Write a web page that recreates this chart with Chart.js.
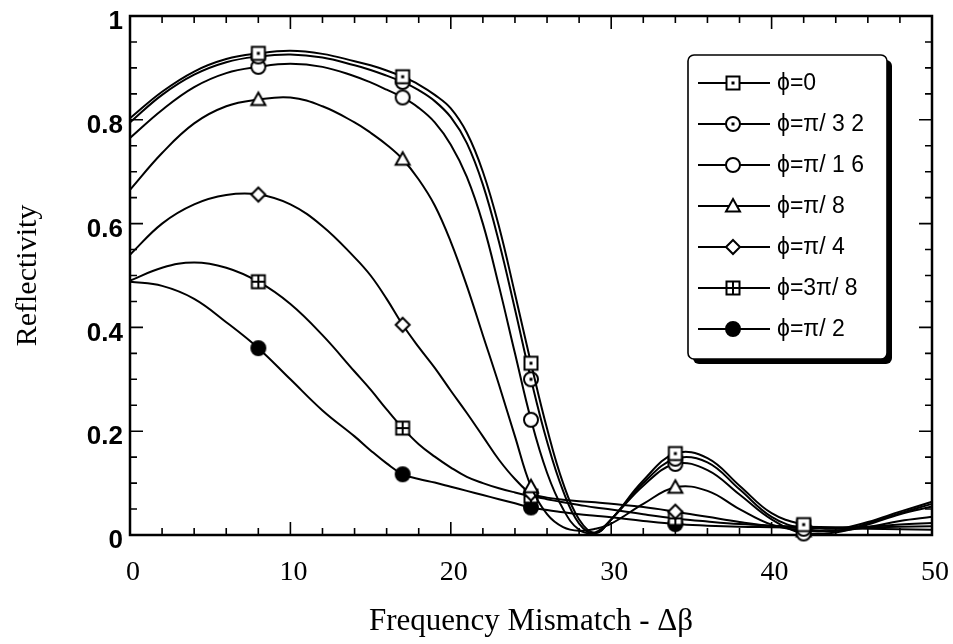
<!DOCTYPE html>
<html>
<head>
<meta charset="utf-8">
<script src="https://cdn.jsdelivr.net/npm/chart.js@4.4.0/dist/chart.umd.min.js"></script>
<style>
  html, body { margin: 0; padding: 0; background: #fff; }
  #wrap { width: 953px; height: 644px; }
</style>
</head>
<body>
<div id="wrap"><canvas id="reflect-chart" width="953" height="644"></canvas></div>
<script>
// frequency mismatch samples (Δβ), denser where the curves fall steeply
const mismatch = [0, 2, 4, 6, 8, 10, 12, 14, 15, 16, 17, 18, 19, 20, 21, 22, 23, 24, 25, 26, 27, 28, 29, 30, 32, 34, 36, 38, 40, 42, 44, 46, 48, 50];
// mismatch values that carry a symbol
const markedAt = [8, 17, 25, 34, 42];

const phiLabels = ['ϕ=0', 'ϕ=π/ 3 2', 'ϕ=π/ 1 6', 'ϕ=π/ 8', 'ϕ=π/ 4', 'ϕ=3π/ 8', 'ϕ=π/ 2'];

// reflectivity for each phase
const rPhi0  = [0.803, 0.854, 0.893, 0.917, 0.928, 0.933, 0.927, 0.913, 0.905, 0.895, 0.883, 0.868, 0.848, 0.822, 0.775, 0.70, 0.595, 0.465, 0.331, 0.205, 0.10, 0.03, 0.004, 0.03, 0.105, 0.157, 0.148, 0.095, 0.042, 0.02, 0.012, 0.025, 0.045, 0.064];
const rPhi32 = [0.795, 0.848, 0.887, 0.911, 0.922, 0.926, 0.92, 0.905, 0.896, 0.885, 0.873, 0.857, 0.836, 0.805, 0.755, 0.675, 0.565, 0.435, 0.30, 0.18, 0.085, 0.022, 0.003, 0.03, 0.10, 0.147, 0.14, 0.088, 0.035, 0.012, 0.008, 0.022, 0.042, 0.06];
const rPhi16 = [0.765, 0.819, 0.863, 0.89, 0.902, 0.908, 0.902, 0.884, 0.872, 0.858, 0.843, 0.823, 0.795, 0.752, 0.69, 0.60, 0.48, 0.35, 0.222, 0.12, 0.05, 0.01, 0.005, 0.03, 0.095, 0.137, 0.125, 0.078, 0.03, 0.003, 0.005, 0.02, 0.04, 0.055];
const rPhi8  = [0.665, 0.736, 0.793, 0.826, 0.839, 0.843, 0.826, 0.795, 0.775, 0.752, 0.724, 0.685, 0.635, 0.565, 0.48, 0.385, 0.29, 0.19, 0.093, 0.04, 0.015, 0.008, 0.012, 0.022, 0.06, 0.092, 0.085, 0.05, 0.02, 0.008, 0.008, 0.015, 0.027, 0.035];
const rPhi4  = [0.54, 0.60, 0.637, 0.655, 0.656, 0.637, 0.595, 0.535, 0.50, 0.455, 0.405, 0.362, 0.322, 0.278, 0.235, 0.19, 0.145, 0.108, 0.08, 0.072, 0.068, 0.065, 0.063, 0.06, 0.054, 0.045, 0.035, 0.025, 0.017, 0.013, 0.013, 0.016, 0.02, 0.023];
const r3Phi8 = [0.49, 0.515, 0.525, 0.515, 0.488, 0.445, 0.385, 0.315, 0.28, 0.242, 0.206, 0.175, 0.151, 0.13, 0.112, 0.10, 0.09, 0.082, 0.075, 0.069, 0.063, 0.058, 0.053, 0.049, 0.04, 0.032, 0.026, 0.021, 0.018, 0.016, 0.015, 0.015, 0.016, 0.017];
const rPhi2  = [0.488, 0.48, 0.455, 0.41, 0.36, 0.30, 0.24, 0.19, 0.163, 0.138, 0.117, 0.108, 0.101, 0.093, 0.085, 0.077, 0.069, 0.061, 0.053, 0.048, 0.044, 0.04, 0.037, 0.034, 0.027, 0.021, 0.018, 0.016, 0.015, 0.014, 0.013, 0.012, 0.011, 0.01];

const xTicks = [0, 10, 20, 30, 40, 50];
const yTicks = [0, 0.2, 0.4, 0.6, 0.8, 1];

// little canvases used as point symbols
const makeMarker = (kind) => {
    const c = document.createElement('canvas');
    c.width = 20;
    c.height = 20;
    const g = c.getContext('2d');
    const m = 10;
    g.lineWidth = 2;
    g.strokeStyle = '#000';
    g.fillStyle = '#fff';
    const dot = () => {
        g.fillStyle = '#000';
        g.fillRect(m - 1.5, m - 1.5, 3, 3);
    };
    if (kind === 'squareDot' || kind === 'squarePlus') {
        g.fillRect(m - 6.5, m - 6.5, 13, 13);
        g.strokeRect(m - 6.5, m - 6.5, 13, 13);
        if (kind === 'squareDot') dot();
        else {
            g.beginPath();
            g.moveTo(m, m - 6.5); g.lineTo(m, m + 6.5);
            g.moveTo(m - 6.5, m); g.lineTo(m + 6.5, m);
            g.stroke();
        }
    } else if (kind === 'circleDot' || kind === 'circle' || kind === 'disc') {
        g.beginPath();
        g.arc(m, m, 7, 0, Math.PI * 2);
        if (kind === 'disc') g.fillStyle = '#000';
        g.fill();
        g.stroke();
        if (kind === 'circleDot') dot();
    } else if (kind === 'triangle') {
        g.beginPath();
        g.moveTo(m, m - 7);
        g.lineTo(m + 7, m + 5.5);
        g.lineTo(m - 7, m + 5.5);
        g.closePath();
        g.fill();
        g.stroke();
    } else if (kind === 'diamond') {
        g.beginPath();
        g.moveTo(m, m - 7);
        g.lineTo(m + 7, m);
        g.lineTo(m, m + 7);
        g.lineTo(m - 7, m);
        g.closePath();
        g.fill();
        g.stroke();
    }
    return c;
};

const seriesValues = [rPhi0, rPhi32, rPhi16, rPhi8, rPhi4, r3Phi8, rPhi2];
const seriesMarkers = ['squareDot', 'circleDot', 'circle', 'triangle', 'diamond', 'squarePlus', 'disc'].map(makeMarker);

const datasets = seriesValues.map((vals, i) => ({
    label: phiLabels[i],
    data: vals.map((v, j) => ({ x: mismatch[j], y: v })),
    borderColor: '#000',
    borderWidth: 2,
    tension: 0.4,
    pointStyle: seriesMarkers[i],
    pointRadius: (ctx) => markedAt.includes(mismatch[ctx.dataIndex]) ? 7 : 0,
    clip: 12
}));

// box frame with inward ticks on all four sides
const frameTicks = {
    id: 'frameTicks',
    beforeDatasetsDraw(chart) {
        const { ctx, chartArea: a, scales: { x, y } } = chart;
        ctx.save();
        ctx.strokeStyle = '#000';
        ctx.lineWidth = 2.5;
        ctx.strokeRect(a.left, a.top, a.right - a.left, a.bottom - a.top);
        ctx.lineWidth = 1.6;
        ctx.beginPath();
        for (let v = 0; v <= 50; v += 2) {
            const px = x.getPixelForValue(v);
            const len = v % 10 === 0 ? 13 : 7;
            ctx.moveTo(px, a.bottom); ctx.lineTo(px, a.bottom - len);
            ctx.moveTo(px, a.top); ctx.lineTo(px, a.top + len);
        }
        for (let i = 0; i <= 20; i++) {
            const py = y.getPixelForValue(i * 0.05);
            const len = i % 4 === 0 ? 13 : 7;
            ctx.moveTo(a.left, py); ctx.lineTo(a.left + len, py);
            ctx.moveTo(a.right, py); ctx.lineTo(a.right - len, py);
        }
        ctx.stroke();
        ctx.restore();
    }
};

// legend box with drop shadow
const phiLegend = {
    id: 'phiLegend',
    afterDraw(chart) {
        const { ctx } = chart;
        const left = 688, top = 55, w = 199, h = 304, shadow = 5;
        const round = (x, y) => {
            ctx.beginPath();
            ctx.roundRect(x, y, w, h, 6);
        };
        ctx.save();
        ctx.fillStyle = '#000';
        round(left + shadow, top + shadow);
        ctx.fill();
        ctx.fillStyle = '#fff';
        ctx.strokeStyle = '#000';
        ctx.lineWidth = 1.6;
        round(left, top);
        ctx.fill();
        ctx.stroke();

        ctx.font = '23px "Liberation Sans", Arial, sans-serif';
        ctx.textBaseline = 'middle';
        ctx.fillStyle = '#000';
        chart.data.datasets.forEach((ds, i) => {
            const cy = top + 28 + i * 41;
            ctx.lineWidth = 2;
            ctx.beginPath();
            ctx.moveTo(left + 10, cy);
            ctx.lineTo(left + 82, cy);
            ctx.stroke();
            const mk = ds.pointStyle;
            ctx.drawImage(mk, left + 45 - mk.width / 2, cy - mk.height / 2);
            ctx.fillText(ds.label, left + 89, cy + 1);
        });
        ctx.restore();
    }
};

new Chart(document.getElementById('reflect-chart'), {
    type: 'line',
    data: { datasets: datasets },
    options: {
        responsive: false,
        animation: false,
        devicePixelRatio: 1,
        layout: { padding: { top: 16, right: 21, left: 0, bottom: 0 } },
        plugins: {
            legend: { display: false },
            tooltip: { enabled: false }
        },
        scales: {
            x: {
                type: 'linear',
                min: 0,
                max: 50,
                afterFit: (s) => { s.height = 109; s.paddingLeft = 0; s.paddingRight = 0; },
                afterBuildTicks: (s) => { s.ticks = xTicks.map(v => ({ value: v })); },
                grid: { display: false, drawTicks: false },
                border: { display: false },
                ticks: {
                    padding: 21,
                    labelOffset: 3,
                    color: '#000',
                    callback: (v) => String(v),
                    font: { family: '"Liberation Serif", serif', size: 28 }
                },
                title: {
                    display: true,
                    text: 'Frequency Mismatch - Δβ',
                    color: '#000',
                    font: { family: '"Liberation Serif", serif', size: 31 },
                    padding: { top: 0, bottom: 4 }
                }
            },
            y: {
                type: 'linear',
                min: 0,
                max: 1,
                afterFit: (s) => { s.width = 130; s.paddingTop = 0; s.paddingBottom = 0; },
                afterBuildTicks: (s) => { s.ticks = yTicks.map(v => ({ value: v })); },
                grid: { display: false, drawTicks: false },
                border: { display: false },
                ticks: {
                    padding: 7,
                    labelOffset: 6,
                    color: '#000',
                    callback: (v) => String(v),
                    font: { family: '"Liberation Sans", Arial, sans-serif', size: 26, weight: 'bold' }
                },
                title: {
                    display: true,
                    text: 'Reflectivity',
                    color: '#000',
                    font: { family: '"Liberation Serif", serif', size: 30 },
                    padding: { top: 10, bottom: 0 }
                }
            }
        }
    },
    plugins: [frameTicks, phiLegend]
});
</script>
</body>
</html>
